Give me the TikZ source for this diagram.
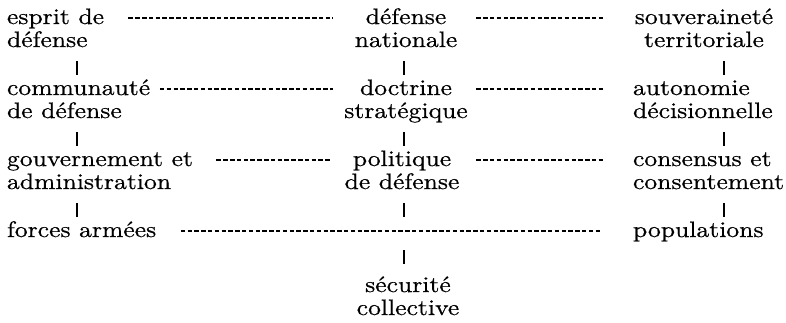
\documentclass[tikz,border=0pt]{standalone}
\usepackage{fontspec}
\setmainfont{lmroman10-regular.otf}[FakeStretch=1.15,FakeBold=0.6]
\newcommand\blkL[1]{\begin{tabular}[t]{@{}l@{}}#1\end{tabular}}
\newcommand\blkC[1]{\begin{tabular}[t]{@{}c@{}}#1\end{tabular}}
\begin{document}
\begin{tikzpicture}[x=1pt,y=-1pt,
  blk/.style={inner sep=0pt, outer sep=0pt, font=\fontsize{22.3}{23}\selectfont},
  dl/.style={line width=1.3pt, dash pattern=on 4.5pt off 2.3pt},
  vbar/.style={line width=1.8pt, shorten <=7.1pt, shorten >=3.9pt}]
\useasboundingbox (0,0) rectangle (786,322);
% column bar positions
\coordinate (xl) at (77,0);
\coordinate (xc) at (404,0);
\coordinate (xr) at (724,0);
% left column
\node[blk, anchor=base west] (esp) at (7,24) {\blkL{esprit de\\défense}};
\node[blk, anchor=base west] (com) at (7,95) {\blkL{communauté\\de défense}};
\node[blk, anchor=base west] (gou) at (7,166) {\blkL{gouvernement et\\administration}};
\node[blk, anchor=base west] (for) at (7,237) {\blkL{forces armées}};
% centre column
\node[blk, anchor=base] (def) at (406,24) {\blkC{défense\\nationale}};
\node[blk, anchor=base] (doc) at (406,95) {\blkC{doctrine\\stratégique}};
\node[blk, anchor=base] (pol) at (402,166) {\blkC{politique\\de défense}};
\coordinate (mid) at (404,231);
\node[blk, anchor=base] (sec) at (408,292) {\blkC{sécurité\\collective}};
% right column
\node[blk, anchor=base] (sou) at (704,24) {\blkC{souveraineté\\territoriale}};
\node[blk, anchor=base west] (aut) at (633,95) {\blkL{autonomie\\décisionnelle}};
\node[blk, anchor=base west] (con) at (633,166) {\blkL{consensus et\\consentement}};
\node[blk, anchor=base west] (pop) at (633,237) {\blkL{populations}};
% dashed links
\draw[dl, shorten <=24.4pt, shorten >=22pt] ([yshift=6pt]esp.base east) -- ([yshift=6pt]def.base west);
\draw[dl, shorten <=19pt, shorten >=30.8pt] ([yshift=6pt]def.base east) -- ([yshift=6pt]sou.base west);
\draw[dl, shorten <=9.8pt, shorten >=11.6pt] ([yshift=6pt]com.base east) -- ([yshift=6pt]doc.base west);
\draw[dl, shorten <=8.6pt, shorten >=29pt] ([yshift=6pt]doc.base east) -- ([yshift=6pt]aut.base west);
\draw[dl, shorten <=23.5pt, shorten >=14.9pt] ([yshift=6pt]gou.base east) -- ([yshift=6pt]pol.base west);
\draw[dl, shorten <=16.9pt, shorten >=29pt] ([yshift=6pt]pol.base east) -- ([yshift=6pt]con.base west);
\draw[dl, shorten <=24.5pt, shorten >=31pt] ([yshift=6pt]for.base east) -- ([yshift=6pt]pop.base west);
% vertical bars
\draw[vbar] (esp.south -| xl) -- (com.north -| xl);
\draw[vbar] (com.south -| xl) -- (gou.north -| xl);
\draw[vbar] (gou.south -| xl) -- (for.north -| xl);
\draw[vbar] (def.south -| xc) -- (doc.north -| xc);
\draw[vbar] (doc.south -| xc) -- (pol.north -| xc);
\draw[vbar, shorten >=14pt] (pol.south -| xc) -- (mid);
\draw[vbar, shorten <=19pt, shorten >=11.9pt] (mid) -- (sec.north -| xc);
\draw[vbar] (sou.south -| xr) -- (aut.north -| xr);
\draw[vbar] (aut.south -| xr) -- (con.north -| xr);
\draw[vbar] (con.south -| xr) -- (pop.north -| xr);
\end{tikzpicture}
\end{document}
